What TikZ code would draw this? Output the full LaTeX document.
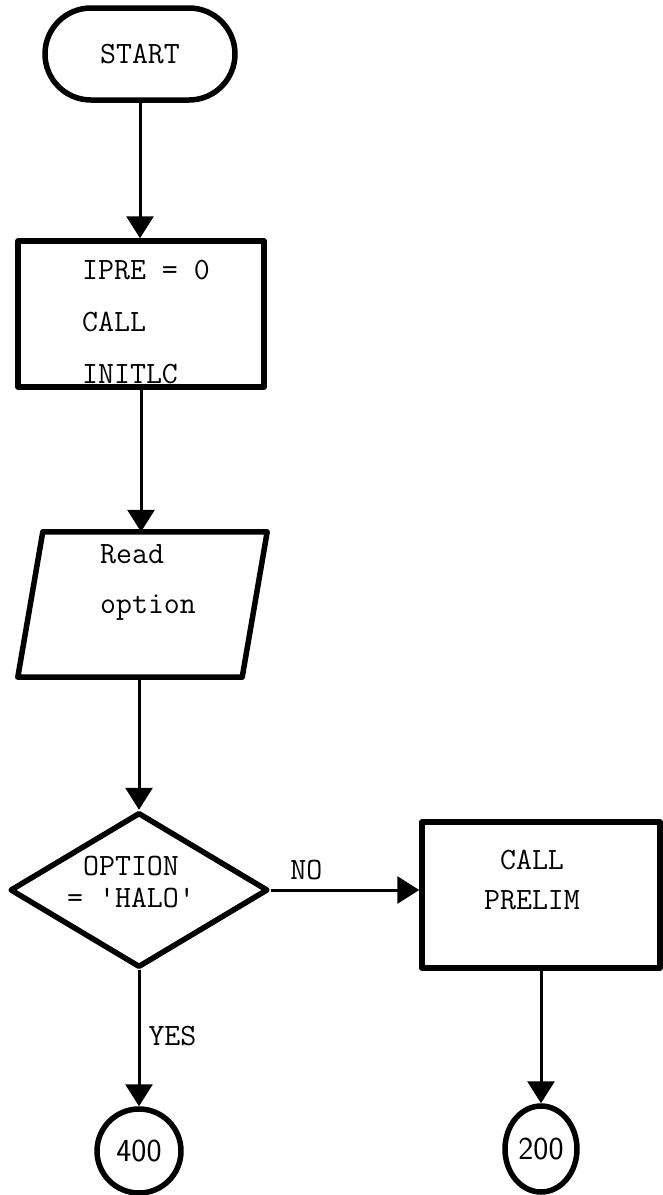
\documentclass[tikz,border=0pt]{standalone}
\usetikzlibrary{arrows.meta,shapes.geometric,shapes.misc,calc}
\begin{document}
\begin{tikzpicture}[x=1pt,y=-1pt,
  shapebox/.style={draw,line width=5.5pt,line join=round,inner sep=0pt,font=\fontsize{31}{36}\selectfont\ttfamily},
  flow/.style={line width=3pt,-{Triangle[length=22pt,width=27pt]}},
  lbl/.style={font=\fontsize{31}{36}\selectfont\ttfamily,inner sep=0pt},
]
\useasboundingbox (0,0) rectangle (663,1195);
\node[shapebox,rounded rectangle,minimum width=190pt,minimum height=92pt] (start) at (140,54) {START};
\node[shapebox,rectangle,minimum width=246pt,minimum height=146pt] (init) at (141,314) {};
\node[lbl,align=left,font=\fontsize{31}{52}\selectfont\ttfamily] (inittxt) at (146,322) {IPRE = 0\\CALL\\INITLC};
\node[minimum width=249pt,minimum height=145pt,inner sep=0pt] (read) at (142.5,604.5) {};
\draw[line width=5.5pt,line join=round] (read.south west) -- ($(read.north west)+(25,0)$) -- (read.north east) -- ($(read.south east)+(-25,0)$) -- cycle;
\node[lbl,align=left,font=\fontsize{31}{50}\selectfont\ttfamily] (readtxt) at (148,582) {Read\\option};
\node[shapebox,diamond,shape aspect=1.66,minimum width=258pt,minimum height=155pt] (opt) at (139,890) {};
\node[lbl,align=center,font=\fontsize{31}{32}\selectfont\ttfamily] (opttxt) at (131,882) {OPTION\\= \textquotesingle HALO\textquotesingle};
\node[shapebox,rectangle,minimum width=238pt,minimum height=146pt] (prelim) at (541,895) {};
\node[lbl,align=center,font=\fontsize{31}{40}\selectfont\ttfamily] (prelimtxt) at (532,880) {CALL\\PRELIM};
\node[shapebox,ellipse,minimum width=84pt,minimum height=84pt,font=\fontsize{32}{36}\selectfont\sffamily] (c400) at (139,1151) {400};
\node[shapebox,ellipse,minimum width=72pt,minimum height=86pt,font=\fontsize{32}{36}\selectfont\sffamily] (c200) at (541,1149) {200};
\draw[flow] (start.south) -- (start.south |- init.north);
\draw[flow] (init.south) -- (init.south |- read.north);
\draw[flow] (read.south -| opt.north) -- (opt.north);
\draw[flow] (opt.east) -- (opt.east -| prelim.west) node[lbl,pos=0.24,above=9pt] {NO};
\draw[flow] (opt.south) -- (c400.north) node[lbl,pos=0.48,right=8pt] {YES};
\draw[flow] (prelim.south) -- (prelim.south |- c200.north);
\end{tikzpicture}
\end{document}
